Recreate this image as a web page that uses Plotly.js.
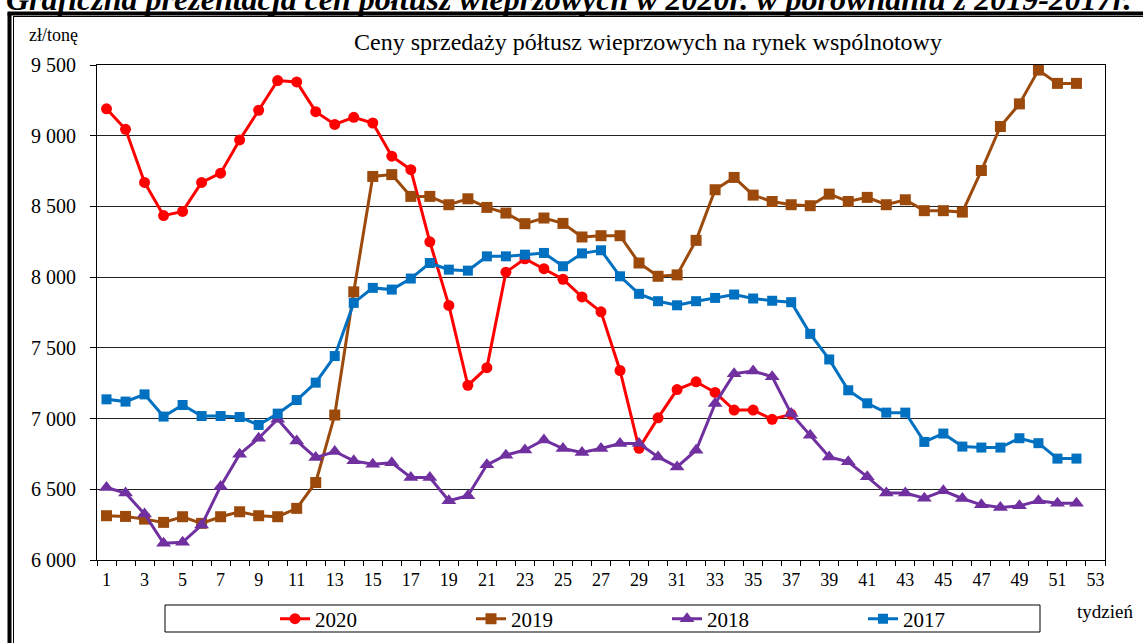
<!DOCTYPE html>
<html>
<head>
<meta charset="utf-8">
<script src="https://cdn.plot.ly/plotly-3.0.1.min.js"></script>
<style>html,body{margin:0;padding:0;background:#fff;}#chart{width:1143px;height:643px;}</style>
</head>
<body>
<div id="chart"></div>
<script>
// ---- data ----
const weeks = [1,2,3,4,5,6,7,8,9,10,11,12,13,14,15,16,17,18,19,20,21,22,23,24,25,26,27,28,29,30,31,32,33,34,35,36,37,38,39,40,41,42,43,44,45,46,47,48,49,50,51,52];
const weeks2020 = [1,2,3,4,5,6,7,8,9,10,11,12,13,14,15,16,17,18,19,20,21,22,23,24,25,26,27,28,29,30,31,32,33,34,35,36,37];
const seriesNames = ['2020', '2019', '2018', '2017'];
const y2020 = [9190, 9045, 8670, 8435, 8465, 8670, 8735, 8970, 9180, 9390, 9380, 9170, 9080, 9130, 9090, 8855, 8760, 8250, 7800, 7235, 7360, 8035, 8130, 8060, 7985, 7860, 7755, 7340, 6790, 7005, 7205, 7260, 7185, 7060, 7060, 6995, 7030];
const y2019 = [6313, 6308, 6289, 6266, 6306, 6259, 6306, 6341, 6313, 6306, 6365, 6548, 7025, 7896, 8712, 8725, 8571, 8571, 8512, 8554, 8493, 8453, 8378, 8418, 8380, 8284, 8293, 8293, 8100, 8006, 8016, 8260, 8618, 8705, 8580, 8535, 8512, 8505, 8587, 8535, 8564, 8512, 8547, 8470, 8470, 8460, 8754, 9065, 9225, 9464, 9370, 9370];
const y2018 = [6513, 6473, 6325, 6118, 6125, 6247, 6520, 6748, 6861, 6995, 6842, 6724, 6767, 6701, 6677, 6688, 6583, 6583, 6419, 6454, 6673, 6741, 6778, 6849, 6788, 6760, 6788, 6823, 6823, 6729, 6658, 6776, 7106, 7317, 7336, 7296, 7035, 6882, 6729, 6694, 6588, 6473, 6473, 6437, 6489, 6435, 6390, 6372, 6383, 6419, 6402, 6402];
const y2017 = [7136, 7120, 7171, 7014, 7096, 7018, 7018, 7011, 6955, 7035, 7131, 7254, 7442, 7818, 7924, 7912, 7990, 8100, 8053, 8046, 8147, 8147, 8159, 8171, 8077, 8168, 8190, 8006, 7882, 7830, 7801, 7830, 7853, 7877, 7849, 7833, 7823, 7599, 7418, 7200, 7108, 7042, 7042, 6835, 6894, 6802, 6795, 6795, 6861, 6826, 6717, 6717];
const yTickVals = [6000, 6500, 7000, 7500, 8000, 8500, 9000, 9500];
const yTickText = ['6 000', '6 500', '7 000', '7 500', '8 000', '8 500', '9 000', '9 500'];
const xTickVals = [1,3,5,7,9,11,13,15,17,19,21,23,25,27,29,31,33,35,37,39,41,43,45,47,49,51,53];
const xTickText = ['1','3','5','7','9','11','13','15','17','19','21','23','25','27','29','31','33','35','37','39','41','43','45','47','49','51','53'];
const chartTitle = 'Ceny sprzedaży półtusz wieprzowych na rynek wspólnotowy';
const headerText = '<b><i>Graficzna prezentacja <u>cen półtusz wieprzowych w 2020r.</u> w porównaniu z 2019-2017r.</i></b>';
const yUnit = 'zł/tonę';
const xUnit = 'tydzień';

// ---- styling ----
const FONT = 'Liberation Serif';
const colors = ['#FF0000', '#9C4A0C', '#7030A0', '#0070C0'];
const symbols = ['circle', 'square', 'triangle-up', 'square'];
const msizes = [11, 11, 13, 10];

const L = 97, R = 1105, T = 65, B = 560, W = 1143, H = 643;
const px = x => (x - L) / (R - L);
const py = y => (B - y) / (B - T);

const xs = [weeks2020, weeks, weeks, weeks];
const ys = [y2020, y2019, y2018, y2017];
const traces = seriesNames.map((n, i) => ({
  type: 'scatter', mode: 'lines+markers', name: n,
  x: xs[i], y: ys[i],
  line: {color: colors[i], width: 3},
  marker: {symbol: symbols[i], size: msizes[i], color: colors[i], line: {width: 0}},
  xaxis: 'x', yaxis: 'y'
}));
traces.push({type: 'scatter', mode: 'markers', x: [1], y: [6000], xaxis: 'x2', yaxis: 'y',
  showlegend: false, hoverinfo: 'skip', marker: {opacity: 0}});

const layout = {
  width: W, height: H,
  margin: {l: L, r: W - R, t: T, b: H - B},
  paper_bgcolor: '#fff', plot_bgcolor: '#fff',
  font: {family: FONT, size: 18, color: '#000'},
  title: {text: chartTitle, font: {family: FONT, size: 24, color: '#000'},
          x: 648 / W, xanchor: 'center', xref: 'container',
          y: 1 - 42 / H, yanchor: 'middle', yref: 'container'},
  showlegend: true,
  legend: {orientation: 'h', x: 275 / W, xref: 'container', xanchor: 'left', y: 1 - 619 / H, yref: 'container', yanchor: 'middle',
           entrywidth: 151, entrywidthmode: 'pixels', bgcolor: 'rgba(0,0,0,0)',
           font: {family: FONT, size: 21, color: '#000'}, itemsizing: 'trace', traceorder: 'normal'},
  xaxis: {range: [0.5, 53.5], tick0: 0.5, dtick: 1, ticks: 'outside', ticklen: 5, tickwidth: 1,
          tickcolor: '#000', showticklabels: false, showgrid: false, zeroline: false, automargin: false,
          showline: true, linecolor: '#000', linewidth: 1, mirror: true},
  xaxis2: {range: [0.5, 53.5], overlaying: 'x', anchor: 'y', side: 'bottom', automargin: false,
           tickmode: 'array', tickvals: xTickVals, ticktext: xTickText,
           ticks: 'outside', ticklen: 3, tickcolor: 'rgba(0,0,0,0)', showgrid: false,
           zeroline: false, showline: false, tickfont: {family: FONT, size: 18, color: '#000'}},
  yaxis: {range: [6000, 9500], tickmode: 'array', tickvals: yTickVals, ticktext: yTickText, automargin: false,
          ticks: 'outside', ticklen: 6, tickcolor: '#000', ticklabelstandoff: 10,
          showgrid: true, gridcolor: '#222', gridwidth: 1, zeroline: false,
          showline: true, linecolor: '#000', linewidth: 1, mirror: true,
          tickfont: {family: FONT, size: 20, color: '#000'}},
  shapes: [
    {type: 'rect', xref: 'paper', yref: 'paper', x0: px(165), x1: px(1040), y0: py(632), y1: py(605),
     line: {color: '#000', width: 1}, fillcolor: 'rgba(0,0,0,0)', layer: 'below'},
    {type: 'line', xref: 'paper', yref: 'paper', x0: px(9.5), x1: px(9.5), y0: py(13), y1: py(650),
     line: {color: '#000', width: 4}},
    {type: 'line', xref: 'paper', yref: 'paper', x0: px(13.5), x1: px(13.5), y0: py(16), y1: py(650),
     line: {color: '#000', width: 1}},
    {type: 'line', xref: 'paper', yref: 'paper', x0: px(7.5), x1: px(1150), y0: py(13.5), y1: py(13.5),
     line: {color: '#000', width: 4}},
    {type: 'line', xref: 'paper', yref: 'paper', x0: px(13.5), x1: px(1150), y0: py(16.5), y1: py(16.5),
     line: {color: '#000', width: 1}}
  ],
  annotations: [
    {text: headerText, xref: 'paper', yref: 'paper', x: px(4), xanchor: 'left', y: py(19), yanchor: 'bottom',
     showarrow: false, font: {family: FONT, size: 32, color: '#000'}},
    {text: yUnit, xref: 'paper', yref: 'paper', x: px(27), xanchor: 'left', y: py(35), yanchor: 'middle',
     showarrow: false, font: {family: FONT, size: 18, color: '#000'}},
    {text: xUnit, xref: 'paper', yref: 'paper', x: px(1075), xanchor: 'left', y: py(611), yanchor: 'middle',
     showarrow: false, font: {family: FONT, size: 19, color: '#000'}}
  ]
};

Plotly.newPlot('chart', traces, layout, {displayModeBar: false, staticPlot: true});
</script>
</body>
</html>
